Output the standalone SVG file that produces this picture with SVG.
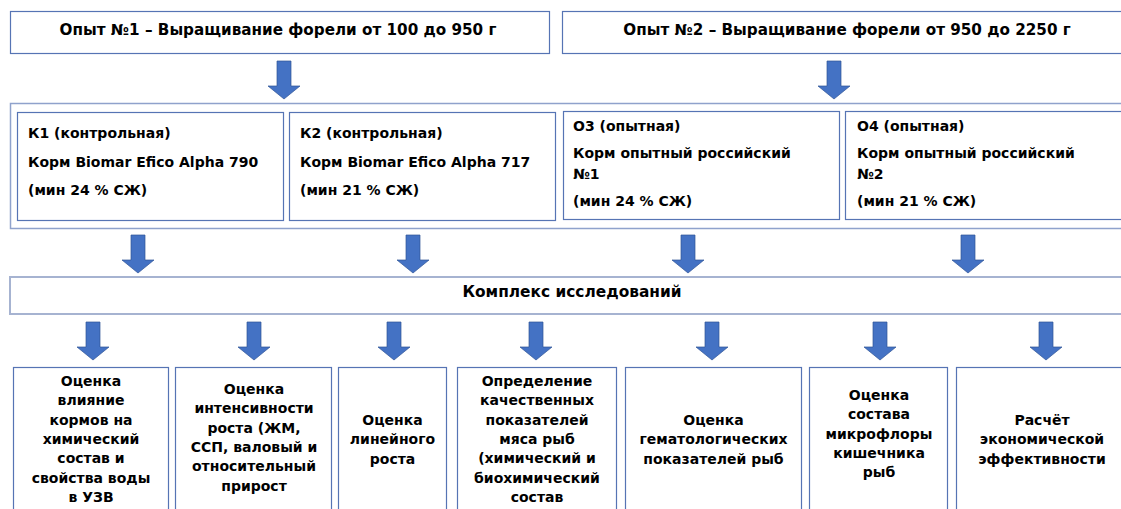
<svg xmlns="http://www.w3.org/2000/svg" width="1121" height="509" viewBox="0 0 1121 509">
<defs>
<style>
.bg{fill:#ffffff}
.box{fill:#ffffff;stroke:#5674B4;stroke-width:1.2}
.cont{fill:#ffffff;stroke:#8FA2CC;stroke-width:1.5}
.band{fill:#ffffff;stroke:#A6B3D1;stroke-width:2}
.t{font-family:"DejaVu Sans",Verdana,sans-serif;font-weight:bold;font-size:14px;fill:#000000}
.big{font-size:15.2px}
.c{text-anchor:middle}
.arr{fill:#4472C4;stroke:#2F5597;stroke-width:0.7}
</style>
<path id="a" d="M-7,0 H7 V25 H16 L0,38 L-16,25 H-7 Z"/>
</defs>
<rect class="bg" x="0" y="0" width="1121" height="509"/>

<g id="exp1">
<rect class="box" x="10.5" y="11.5" width="539" height="42"/>
<text class="t big c" x="278" y="35">Опыт №1 – Выращивание форели от 100 до 950 г</text>
</g>
<g id="exp2">
<rect class="box" x="562.5" y="11.5" width="570" height="42"/>
<text class="t big c" x="847" y="35">Опыт №2 – Выращивание форели от 950 до 2250 г</text>
</g>

<g id="groups">
<rect class="cont" x="10.5" y="103.5" width="1125" height="125"/>
</g>
<g id="k1">
<rect class="box" x="17.5" y="112.5" width="266" height="108"/>
<text class="t" x="28" y="138">К1 (контрольная)</text>
<text class="t" x="28" y="167">Корм Biomar Efico Alpha 790</text>
<text class="t" x="28" y="195">(мин 24 % СЖ)</text>
</g>
<g id="k2">
<rect class="box" x="289.5" y="112.5" width="266" height="108"/>
<text class="t" x="300" y="138">К2 (контрольная)</text>
<text class="t" x="300" y="167">Корм Biomar Efico Alpha 717</text>
<text class="t" x="300" y="195">(мин 21 % СЖ)</text>
</g>
<g id="o3">
<rect class="box" x="563.5" y="111.5" width="276" height="108"/>
<text class="t" x="573" y="131">О3 (опытная)</text>
<text class="t" x="573" y="158">Корм опытный российский</text>
<text class="t" x="573" y="179">№1</text>
<text class="t" x="573" y="206">(мин 24 % СЖ)</text>
</g>
<g id="o4">
<rect class="box" x="845.5" y="111.5" width="285" height="108"/>
<text class="t" x="857" y="131">О4 (опытная)</text>
<text class="t" x="857" y="158">Корм опытный российский</text>
<text class="t" x="857" y="179">№2</text>
<text class="t" x="857" y="206">(мин 21 % СЖ)</text>
</g>

<g id="complex">
<rect class="band" x="10" y="277" width="1125" height="37"/>
<text class="t c" x="572" y="297" style="font-size:15.4px">Комплекс исследований</text>
</g>

<g id="b1">
<rect class="box" x="13.5" y="367.5" width="155" height="150"/>
<text class="t c" x="91" y="386">Оценка</text>
<text class="t c" x="91" y="405.3">влияние</text>
<text class="t c" x="91" y="424.6">кормов на</text>
<text class="t c" x="91" y="443.9">химический</text>
<text class="t c" x="91" y="463.2">состав и</text>
<text class="t c" x="91" y="482.5">свойства воды</text>
<text class="t c" x="91" y="501.8">в УЗВ</text>
</g>
<g id="b2">
<rect class="box" x="175.5" y="367.5" width="156" height="150"/>
<text class="t c" x="254" y="394">Оценка</text>
<text class="t c" x="254" y="413.3">интенсивности</text>
<text class="t c" x="254" y="432.6">роста (ЖМ,</text>
<text class="t c" x="254" y="451.9">ССП, валовый и</text>
<text class="t c" x="254" y="471.2">относительный</text>
<text class="t c" x="254" y="490.5">прирост</text>
</g>
<g id="b3">
<rect class="box" x="338.5" y="367.5" width="108" height="150"/>
<text class="t c" x="392.5" y="425">Оценка</text>
<text class="t c" x="392.5" y="444.3">линейного</text>
<text class="t c" x="392.5" y="463.6">роста</text>
</g>
<g id="b4">
<rect class="box" x="457.5" y="367.5" width="159" height="150"/>
<text class="t c" x="537" y="386">Определение</text>
<text class="t c" x="537" y="405.3">качественных</text>
<text class="t c" x="537" y="424.6">показателей</text>
<text class="t c" x="537" y="443.9">мяса рыб</text>
<text class="t c" x="537" y="463.2">(химический и</text>
<text class="t c" x="537" y="482.5">биохимический</text>
<text class="t c" x="537" y="501.8">состав</text>
</g>
<g id="b5">
<rect class="box" x="625.5" y="367.5" width="176" height="150"/>
<text class="t c" x="713.5" y="425">Оценка</text>
<text class="t c" x="713.5" y="444.3">гематологических</text>
<text class="t c" x="713.5" y="463.6">показателей рыб</text>
</g>
<g id="b6">
<rect class="box" x="809.5" y="367.5" width="138" height="150"/>
<text class="t c" x="879" y="400">Оценка</text>
<text class="t c" x="879" y="419.3">состава</text>
<text class="t c" x="879" y="438.6">микрофлоры</text>
<text class="t c" x="879" y="457.9">кишечника</text>
<text class="t c" x="879" y="477.2">рыб</text>
</g>
<g id="b7">
<rect class="box" x="956.5" y="367.5" width="172" height="150"/>
<text class="t c" x="1042" y="425">Расчёт</text>
<text class="t c" x="1042" y="444.3">экономической</text>
<text class="t c" x="1042" y="463.6">эффективности</text>
</g>

<g id="connectors">
<use href="#a" class="arr" x="284" y="61"/>
<use href="#a" class="arr" x="834" y="61"/>
<use href="#a" class="arr" x="138" y="235"/>
<use href="#a" class="arr" x="413" y="235"/>
<use href="#a" class="arr" x="688" y="235"/>
<use href="#a" class="arr" x="968" y="235"/>
<use href="#a" class="arr" x="93" y="322"/>
<use href="#a" class="arr" x="254" y="322"/>
<use href="#a" class="arr" x="394" y="322"/>
<use href="#a" class="arr" x="536" y="322"/>
<use href="#a" class="arr" x="712" y="322"/>
<use href="#a" class="arr" x="880" y="322"/>
<use href="#a" class="arr" x="1046" y="322"/>
</g>
</svg>
